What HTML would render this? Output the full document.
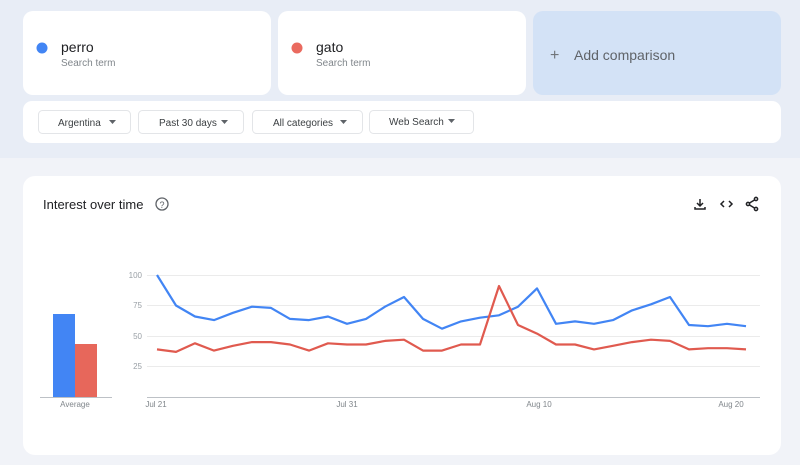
<!DOCTYPE html>
<html><head><meta charset="utf-8"><style>
body{margin:0;width:800px;height:460px;overflow:hidden;background:#f1f3f8;font-family:"Liberation Sans",sans-serif}
</style></head><body>
<svg width="800" height="460" xmlns="http://www.w3.org/2000/svg" font-family="Liberation Sans, sans-serif">
<rect x="0" y="0" width="800" height="158" fill="#e8edf6"/>
<rect x="23" y="11" width="248" height="84" rx="10" fill="#fff"/>
<rect x="278" y="11" width="248" height="84" rx="10" fill="#fff"/>
<rect x="533" y="11" width="248" height="84" rx="10" fill="#d3e2f6"/>
<circle cx="42" cy="48" r="5.5" fill="#4285f4"/>
<text x="61" y="52" font-size="14" fill="#202124">perro</text>
<text x="61" y="66" font-size="10" fill="#80868b">Search term</text>
<circle cx="297" cy="48" r="5.5" fill="#ea6a5f"/>
<text x="316" y="52" font-size="14" fill="#202124">gato</text>
<text x="316" y="66" font-size="10" fill="#80868b">Search term</text>
<text x="550" y="60" font-size="16" fill="#70757a">+</text>
<text x="574" y="60" font-size="14" fill="#5f6368">Add comparison</text>
<rect x="23" y="101" width="758" height="42" rx="9" fill="#fff"/>
<g font-size="10" fill="#3c4043" stroke-width="1">
<rect x="38.5" y="110.5" width="92" height="23" rx="4" fill="#fff" stroke="#e3e5e8"/>
<text x="58" y="126">Argentina</text><path d="M109 120h7l-3.5 4z" fill="#5f6368"/>
<rect x="138.5" y="110.5" width="105" height="23" rx="4" fill="#fff" stroke="#e3e5e8"/>
<text x="159" y="126">Past 30 days</text><path d="M221 120h7l-3.5 4z" fill="#5f6368"/>
<rect x="252.5" y="110.5" width="110" height="23" rx="4" fill="#fff" stroke="#e3e5e8"/>
<text x="273" y="126">All categories</text><path d="M340 120h7l-3.5 4z" fill="#5f6368"/>
<rect x="369.5" y="110.5" width="104" height="23" rx="4" fill="#fff" stroke="#e3e5e8"/>
<text x="389" y="125">Web Search</text><path d="M448 119h7l-3.5 4z" fill="#5f6368"/>
</g>
<rect x="23" y="176" width="758" height="279" rx="12" fill="#fff"/>
<text x="43" y="209" font-size="13" fill="#202124">Interest over time</text>
<circle cx="162" cy="204" r="6" fill="none" stroke="#5f6368" stroke-width="1.3"/>
<text x="162" y="208" font-size="9" fill="#5f6368" text-anchor="middle">?</text>
<g stroke="#202124" stroke-width="1.5" fill="none">
<path d="M700 199v7M697 203l3 3 3-3M695 207v2h10v-2"/>
<path d="M724 201l-3 3 3 3M729 201l3 3-3 3"/>
<circle cx="756" cy="199" r="1.6"/><circle cx="756" cy="209" r="1.6"/><circle cx="748" cy="204" r="1.6"/>
<path d="M749.5 203l5-3M749.5 205l5 3"/>
</g>
<rect x="53" y="314" width="22" height="83" fill="#4285f4"/>
<rect x="75" y="344" width="22" height="53" fill="#e7675b"/>
<line x1="40" y1="397.5" x2="112" y2="397.5" stroke="#bdc1c6"/>
<text x="75" y="407" font-size="8" fill="#80868b" text-anchor="middle">Average</text>
<g stroke="#ebebeb" stroke-width="1">
<line x1="147" y1="275.5" x2="760" y2="275.5"/>
<line x1="147" y1="305.5" x2="760" y2="305.5"/>
<line x1="147" y1="336.5" x2="760" y2="336.5"/>
<line x1="147" y1="366.5" x2="760" y2="366.5"/>
</g>
<line x1="147" y1="397.5" x2="760" y2="397.5" stroke="#bdc1c6"/>
<g font-size="8" fill="#9aa0a6" text-anchor="end">
<text x="142" y="278">100</text><text x="142" y="308">75</text><text x="142" y="339">50</text><text x="142" y="369">25</text>
</g>
<g font-size="8" fill="#80868b" text-anchor="middle">
<text x="156" y="407">Jul 21</text><text x="347" y="407">Jul 31</text><text x="539" y="407">Aug 10</text><text x="731" y="407">Aug 20</text>
</g>
<polyline fill="none" stroke="#4285f4" stroke-width="2.2" stroke-linejoin="round" points="157,275 176,305.5 195,316.5 214,320.1 233,312.8 252,306.7 271,307.9 290,318.9 309,320.1 328,316.5 347,323.8 366,318.9 385,306.7 404,297 423,318.9 442,328.7 461,321.4 480,317.7 499,315.3 518,306.7 537,288.4 556,323.8 575,321.4 594,323.8 613,320.1 632,310.4 651,304.3 670,297 689,325 708,326.2 727,323.8 746,326.2"/>
<polyline fill="none" stroke="#e05a4f" stroke-width="2.2" stroke-linejoin="round" points="157,349.4 176,351.9 195,343.3 214,350.6 233,345.8 252,342.1 271,342.1 290,344.5 309,350.6 328,343.3 347,344.5 366,344.5 385,340.9 404,339.7 423,350.6 442,350.6 461,344.5 480,344.5 499,286 518,325 537,333.6 556,344.5 575,344.5 594,349.4 613,345.8 632,342.1 651,339.7 670,340.9 689,349.4 708,348.2 727,348.2 746,349.4"/>
</svg>
</body></html>
